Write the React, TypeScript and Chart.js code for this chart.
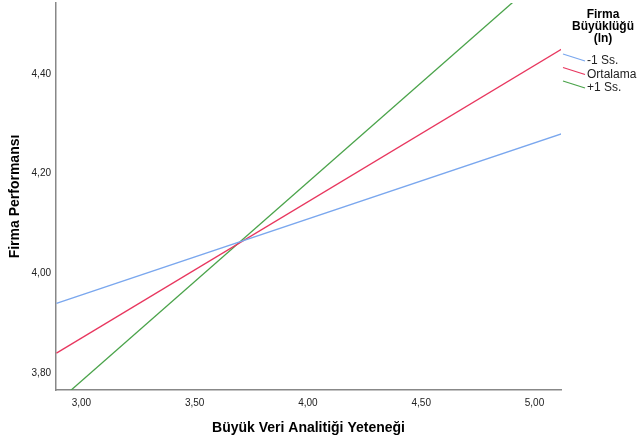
import { useEffect, useRef } from "react";
import { Chart, registerables } from "chart.js";

Chart.register(...registerables);

// x range of the fitted lines (Büyük Veri Analitiği Yeteneği)
const xRange = [2.89, 5.12];
const seriesNames = ["-1 Ss.", "Ortalama", "+1 Ss."];
const lowSeries = [3.94, 4.28];
const meanSeries = [3.84, 4.45];
const highSeries = [3.74, 4.63];
const xTicks = [3.0, 3.5, 4.0, 4.5, 5.0];
const yTicks = [3.8, 4.0, 4.2, 4.4];
const legendTitle = ["Firma", "Büyüklüğü", "(ln)"];

const COLORS = ["#7aa7ee", "#e8375f", "#4aa34a"];
const FONT = "'Liberation Sans', Arial, sans-serif";

const fmt = (v: number) => v.toFixed(2).replace(".", ",");

const legendPlugin = {
  id: "spssLegend",
  afterDraw(chart: Chart) {
    const ctx = chart.ctx;
    ctx.save();
    ctx.fillStyle = "#000";
    ctx.textAlign = "center";
    ctx.textBaseline = "middle";
    ctx.font = `bold 12px ${FONT}`;
    legendTitle.forEach((t, i) => ctx.fillText(t, 603, 15 + i * 12));
    ctx.font = `12px ${FONT}`;
    ctx.textAlign = "left";
    seriesNames.forEach((name, i) => {
      const y = 61 + i * 13.5;
      ctx.strokeStyle = COLORS[i];
      ctx.lineWidth = 1.2;
      ctx.beginPath();
      ctx.moveTo(563, y - 7);
      ctx.lineTo(585, y);
      ctx.stroke();
      ctx.fillStyle = "#222";
      ctx.fillText(name, 587, y);
    });
    ctx.restore();
  },
};

export default function App() {
  const canvasRef = useRef<HTMLCanvasElement>(null);
  const chartRef = useRef<Chart | null>(null);

  useEffect(() => {
    if (!canvasRef.current) return;
    if (chartRef.current) chartRef.current.destroy();

    const all = [lowSeries, meanSeries, highSeries];
    const datasets = all.map((vals, i) => ({
      label: seriesNames[i],
      data: xRange.map((x, j) => ({ x, y: vals[j] })),
      borderColor: COLORS[i],
      backgroundColor: COLORS[i],
      borderWidth: 1.3,
      pointRadius: 0,
      fill: false,
    }));

    chartRef.current = new Chart(canvasRef.current, {
      type: "line",
      data: { datasets },
      options: {
        animation: false,
        responsive: true,
        maintainAspectRatio: false,
        layout: { padding: { top: 3, right: 79, left: 0, bottom: 0 } },
        plugins: {
          legend: { display: false },
          tooltip: { enabled: false },
        },
        scales: {
          x: {
            type: "linear",
            min: 2.888,
            max: 5.117,
            afterBuildTicks: (scale: any) => {
              scale.ticks = xTicks.map((value) => ({ value }));
            },
            afterFit: (scale: any) => {
              scale.height = 50;
              scale.paddingLeft = 0;
              scale.paddingRight = 0;
            },
            grid: { display: false, drawTicks: false },
            border: { display: true, color: "#888", width: 1.5 },
            ticks: {
              font: { family: FONT, size: 10 },
              color: "#222",
              padding: 7,
              maxRotation: 0,
              callback: (v: any) => fmt(Number(v)),
            },
            title: {
              display: true,
              text: "Büyük Veri Analitiği Yeteneği",
              font: { family: FONT, size: 14, weight: "bold" },
              color: "#000",
              padding: { top: 0, bottom: 3 },
            },
          },
          y: {
            type: "linear",
            min: 3.766,
            max: 4.5425,
            afterBuildTicks: (scale: any) => {
              scale.ticks = yTicks.map((value) => ({ value }));
            },
            afterFit: (scale: any) => {
              scale.width = 56;
              scale.paddingTop = 0;
              scale.paddingBottom = 0;
            },
            grid: { display: false, drawTicks: false },
            border: { display: true, color: "#888", width: 1.5 },
            ticks: {
              font: { family: FONT, size: 10 },
              color: "#222",
              padding: 5,
              callback: (v: any) => fmt(Number(v)),
            },
            title: {
              display: true,
              text: "Firma Performansı",
              font: { family: FONT, size: 14, weight: "bold" },
              color: "#000",
              padding: { top: 7, bottom: 0 },
            },
          },
        },
      },
      plugins: [legendPlugin],
    });

    return () => {
      if (chartRef.current) {
        chartRef.current.destroy();
        chartRef.current = null;
      }
    };
  }, []);

  return (
    <div style={{ position: "absolute", left: 0, top: 0, width: 640, height: 440, background: "#fff" }}>
      <canvas ref={canvasRef} />
    </div>
  );
}
